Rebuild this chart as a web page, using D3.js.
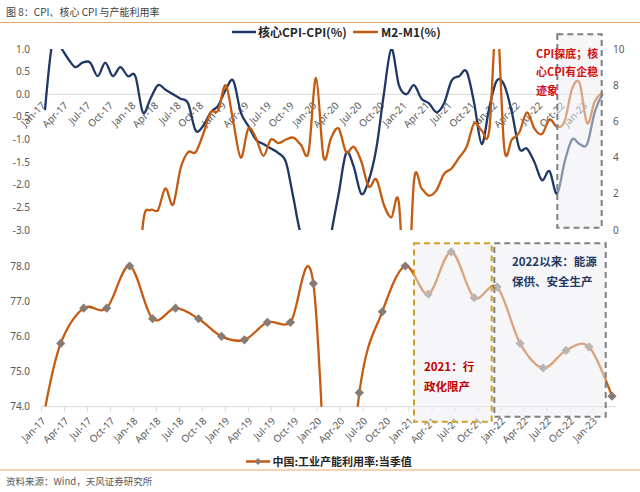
<!DOCTYPE html>
<html><head><meta charset="utf-8">
<script src="https://cdn.jsdelivr.net/npm/d3@7"></script>
<style>
body{margin:0;background:#fff;}
svg{display:block;font-family:"Noto Sans","Noto Sans CJK SC",sans-serif;}
.cjk{font-family:"Noto Sans CJK SC","Noto Sans",sans-serif;}
</style>
</head><body>
<svg id="c" width="640" height="492"></svg>
<script>
// ---------- DATA ----------
const months = [
"Jan-17","Feb-17","Mar-17","Apr-17","May-17","Jun-17","Jul-17","Aug-17","Sep-17","Oct-17","Nov-17","Dec-17",
"Jan-18","Feb-18","Mar-18","Apr-18","May-18","Jun-18","Jul-18","Aug-18","Sep-18","Oct-18","Nov-18","Dec-18",
"Jan-19","Feb-19","Mar-19","Apr-19","May-19","Jun-19","Jul-19","Aug-19","Sep-19","Oct-19","Nov-19","Dec-19",
"Jan-20","Feb-20","Mar-20","Apr-20","May-20","Jun-20","Jul-20","Aug-20","Sep-20","Oct-20","Nov-20","Dec-20",
"Jan-21","Feb-21","Mar-21","Apr-21","May-21","Jun-21","Jul-21","Aug-21","Sep-21","Oct-21","Nov-21","Dec-21",
"Jan-22","Feb-22","Mar-22","Apr-22","May-22","Jun-22","Jul-22","Aug-22","Sep-22","Oct-22","Nov-22","Dec-22",
"Jan-23","Feb-23","Mar-23"];

const tickMonths = ["Jan-17","Apr-17","Jul-17","Oct-17","Jan-18","Apr-18","Jul-18","Oct-18",
"Jan-19","Apr-19","Jul-19","Oct-19","Jan-20","Apr-20","Jul-20","Oct-20",
"Jan-21","Apr-21","Jul-21","Oct-21","Jan-22","Apr-22","Jul-22","Oct-22","Jan-23"];

// 核心CPI-CPI(%) (left axis)
const coreMinusCpi = [
-0.35,1.15,1.05,0.8,0.6,0.7,0.7,0.4,0.7,0.4,0.6,0.4,
0.4,-0.4,-0.1,0.2,0.1,0.0,-0.1,-0.2,-0.8,-0.7,-0.4,-0.25,
0.1,0.3,-0.4,-0.7,-1.0,-1.1,-1.2,-1.3,-1.5,-2.3,-3.1,-3.1,
-3.9,-4.2,-3.1,-2.2,-1.3,-1.6,-2.2,-1.9,-1.2,0.0,1.0,0.2,
0.0,0.2,-0.1,-0.2,-0.4,-0.2,0.3,0.4,0.5,-0.2,-1.1,-0.3,
0.3,0.2,-0.4,-1.2,-1.2,-1.5,-1.9,-1.7,-2.2,-1.5,-1.0,-1.1,
-1.1,-0.4,0.0];

// M2-M1(%) (right axis)
const m2MinusM1 = [
-3.2,-10.3,-8.2,-8.0,-7.4,-5.6,-6.1,-5.1,-4.8,-4.2,-3.6,-3.6,
-6.4,0.3,1.1,1.1,2.3,1.4,3.4,4.3,4.3,5.3,6.5,6.6,
8.0,6.0,4.0,5.6,5.1,4.1,5.0,4.8,5.0,5.1,4.7,4.3,
8.4,4.0,5.1,5.6,4.3,4.6,3.8,2.4,2.8,1.4,0.7,1.5,
-5.3,2.7,2.3,1.9,2.2,3.1,3.4,4.0,4.6,5.9,5.5,5.5,
11.7,4.5,5.0,5.4,6.5,5.6,5.3,6.1,5.7,6.0,7.8,8.1,
5.9,7.1,7.6];

// 中国:工业产能利用率:当季值
const utilPeriods = ["Jan-17","Mar-17","Jun-17","Sep-17","Dec-17","Mar-18","Jun-18","Sep-18","Dec-18",
"Mar-19","Jun-19","Sep-19","Dec-19","Mar-20","Jun-20","Sep-20","Dec-20","Mar-21","Jun-21","Sep-21","Dec-21",
"Mar-22","Jun-22","Sep-22","Dec-22","Mar-23"];
const utilValues = [74.0,75.8,76.8,76.8,78.0,76.5,76.8,76.5,76.0,
75.9,76.4,76.4,77.5,67.3,74.4,76.7,78.0,77.2,78.4,77.1,77.4,
75.8,75.1,75.6,75.7,74.3];

const leftTicks = [1.0,0.5,0.0,-0.5,-1.0,-1.5,-2.0,-2.5,-3.0];
const rightTicks = [10,8,6,4,2,0];
const utilTicks = [78,77,76,75,74];

// ---------- DRAW ----------
const svg = d3.select("#c");
const BLUE = "#1f3864", ORANGE = "#c55a11", AXIS = "#595959", RULE = "#eaa56a";

// title & rules
svg.append("text").attr("class","cjk").attr("x",6).attr("y",16)
  .style("font-size","10px").style("fill","#404040").text("图 8：CPI、核心 CPI 与产能利用率");
svg.append("line").attr("x1",0).attr("x2",640).attr("y1",22.5).attr("y2",22.5)
  .attr("stroke",RULE).attr("stroke-width",1.2);

// top legend
const lgT = svg.append("g");
lgT.append("line").attr("x1",232).attr("x2",256).attr("y1",32).attr("y2",32).attr("stroke",BLUE).attr("stroke-width",2.5);
lgT.append("text").attr("class","cjk").attr("x",258).attr("y",36.5).style("font-size","12px").style("font-weight","bold").style("fill","#262626").text("核心CPI-CPI(%)");
lgT.append("line").attr("x1",353).attr("x2",378).attr("y1",32).attr("y2",32).attr("stroke",ORANGE).attr("stroke-width",2.5);
lgT.append("text").attr("class","cjk").attr("x",381).attr("y",36.5).style("font-size","12px").style("font-weight","bold").style("fill","#262626").text("M2-M1(%)");

// ---- top chart ----
const xT = d3.scalePoint().domain(months).range([45, 602.2]);
const yL = d3.scaleLinear().domain([-3, 1]).range([230, 49]);
const yR = d3.scaleLinear().domain([0, 10]).range([230, 49]);

const defs = svg.append("defs");
defs.append("clipPath").attr("id","clipT").append("rect").attr("x",38).attr("y",yL(1)).attr("width",572).attr("height",yL(-3)-yL(1));
defs.append("clipPath").attr("id","clipB").append("rect").attr("x",38).attr("y",236).attr("width",585).attr("height",170.7);

svg.append("line").attr("x1",41).attr("x2",606).attr("y1",yL(0)).attr("y2",yL(0)).attr("stroke","#d9d9d9").attr("stroke-width",1);

svg.append("g").selectAll("text").data(leftTicks).join("text")
  .attr("x",30).attr("y",d=>yL(d)).attr("dy","0.35em").attr("text-anchor","end")
  .style("font-size","10px").style("fill",AXIS).text(d=>d.toFixed(1));
svg.append("g").selectAll("text").data(rightTicks).join("text")
  .attr("x",613).attr("y",d=>yR(d)).attr("dy","0.35em").attr("text-anchor","start")
  .style("font-size","10px").style("fill",AXIS).text(d=>d);
svg.append("g").selectAll("text").data(tickMonths).join("text")
  .attr("transform",d=>`translate(${xT(d)+1},${yL(0)+12}) rotate(-45)`)
  .attr("text-anchor","end").style("font-size","10px").style("fill",AXIS).text(d=>d);

const curve = d3.curveCardinal.tension(0);
const gT = svg.append("g").attr("clip-path","url(#clipT)");
gT.append("path").datum(coreMinusCpi)
  .attr("d", d3.line().x((d,i)=>xT(months[i])).y(d=>yL(d)).curve(curve))
  .attr("fill","none").attr("stroke",BLUE).attr("stroke-width",2.3);
gT.append("path").datum(m2MinusM1)
  .attr("d", d3.line().x((d,i)=>xT(months[i])).y(d=>yR(d)).curve(curve))
  .attr("fill","none").attr("stroke",ORANGE).attr("stroke-width",2.3);

// ---- bottom chart ----
const xB = d3.scalePoint().domain(months).range([45.4, 612]);
const yB = d3.scaleLinear().domain([74, 78]).range([406.7, 266]);
const stepB = xB.step();

svg.append("line").attr("x1",41.6).attr("x2",616).attr("y1",yB(74)).attr("y2",yB(74)).attr("stroke","#d9d9d9");
svg.append("g").selectAll("line").data(tickMonths).join("line")
  .attr("x1",d=>xB(d)-stepB/2).attr("x2",d=>xB(d)-stepB/2).attr("y1",yB(74)).attr("y2",yB(74)+5)
  .attr("stroke","#d9d9d9");
svg.append("g").selectAll("text").data(utilTicks).join("text")
  .attr("x",30).attr("y",d=>yB(d)).attr("dy","0.35em").attr("text-anchor","end")
  .style("font-size","10px").style("fill",AXIS).text(d=>d.toFixed(1));
svg.append("g").selectAll("text").data(tickMonths).join("text")
  .attr("transform",d=>`translate(${xB(d)+1},${yB(74)+15}) rotate(-45)`)
  .attr("text-anchor","end").style("font-size","10px").style("fill",AXIS).text(d=>d);

const gB = svg.append("g").attr("clip-path","url(#clipB)");
gB.append("path").datum(utilValues)
  .attr("d", d3.line().x((d,i)=>xB(utilPeriods[i])).y(d=>yB(d)).curve(curve))
  .attr("fill","none").attr("stroke",ORANGE).attr("stroke-width",2.3);
const dia = h => `M0,${-h}L${h},0L0,${h}L${-h},0Z`;
gB.selectAll("path.mk").data(utilValues.slice(1)).join("path").attr("class","mk")
  .attr("transform",(d,i)=>`translate(${xB(utilPeriods[i+1])},${yB(d)})`)
  .attr("d",dia(4.6)).attr("fill","#877b73");

// ---- annotation boxes (semi-transparent over the lines) ----
svg.append("rect").attr("x",557.3).attr("y",34.3).attr("width",44.4).attr("height",193.4)
  .attr("fill","rgba(238,238,242,0.5)").attr("stroke","#808080").attr("stroke-width",2).attr("stroke-dasharray","6,4");
svg.append("rect").attr("x",414).attr("y",243.3).attr("width",77.7).attr("height",178.4)
  .attr("fill","rgba(238,238,242,0.5)").attr("stroke","#cfa11f").attr("stroke-width",2).attr("stroke-dasharray","6,4");
svg.append("rect").attr("x",494.3).attr("y",243.3).attr("width",111.4).attr("height",173.4)
  .attr("fill","rgba(238,238,242,0.5)").attr("stroke","#808080").attr("stroke-width",2).attr("stroke-dasharray","6,4");

const note = (x, ys, lines, color, size) => {
  lines.forEach((t,i)=>svg.append("text").attr("class","cjk").attr("x",x).attr("y",ys[i])
    .style("font-size",size).style("font-weight","bold").style("fill",color).text(t));
};
note(536, [57.5, 76, 94.5], ["CPI探底；核","心CPI有企稳","迹象"], "#d40f0f", "11px");
note(512, [266, 285.5], ["2022以来：能源","保供、安全生产"], "#1f3864", "11.5px");
note(424, [371, 390.5], ["2021：行","政化限产"], "#c00000", "11.5px");

// bottom legend
svg.append("line").attr("x1",246).attr("x2",270).attr("y1",461.5).attr("y2",461.5).attr("stroke",ORANGE).attr("stroke-width",2.5);
svg.append("path").attr("transform","translate(258,461.5)").attr("d",dia(3.5)).attr("fill","#877b73");
svg.append("text").attr("class","cjk").attr("x",272.5).attr("y",465.5).style("font-size","11px").style("font-weight","bold").style("fill","#262626").text("中国:工业产能利用率:当季值");

// footer
svg.append("line").attr("x1",0).attr("x2",640).attr("y1",470).attr("y2",470).attr("stroke",RULE).attr("stroke-width",1.2);
svg.append("text").attr("class","cjk").attr("x",6).attr("y",485).style("font-size","9.5px").style("fill","#595959").text("资料来源：Wind，天风证券研究所");
</script>
</body></html>
